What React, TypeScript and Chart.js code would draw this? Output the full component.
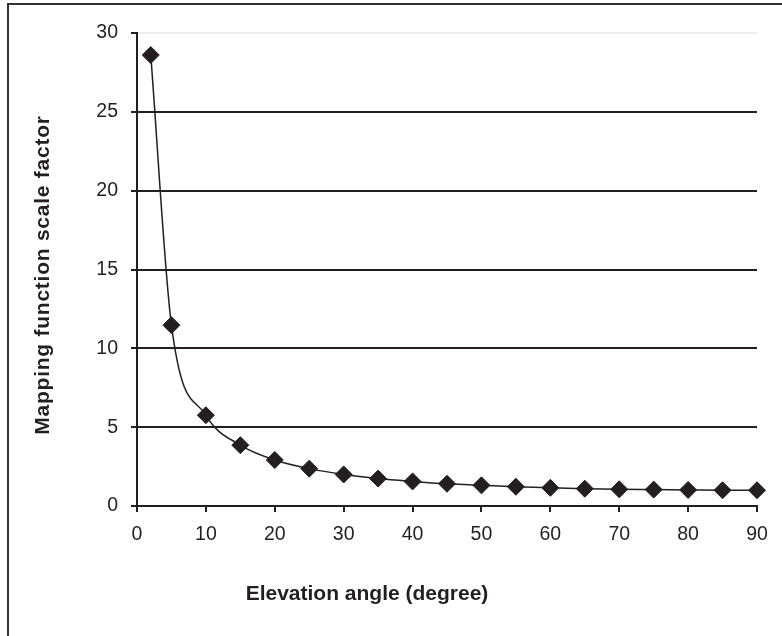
import React, { useEffect, useRef } from "react";
import { Chart, registerables } from "chart.js";

Chart.register(...registerables);

const elevationDeg: number[] = [2, 5, 10, 15, 20, 25, 30, 35, 40, 45, 50, 55, 60, 65, 70, 75, 80, 85, 90];
const scaleFactor: number[] = [28.6, 11.47, 5.76, 3.86, 2.92, 2.37, 2.0, 1.74, 1.56, 1.41, 1.31, 1.22, 1.15, 1.1, 1.06, 1.04, 1.02, 1.0, 1.0];
const xTitle = "Elevation angle (degree)";
const yTitle = "Mapping function scale factor";

const INK = "#231f20";

const titlesPlugin = {
  id: "axisTitles",
  afterDraw(chart: any) {
    const ctx = chart.ctx as CanvasRenderingContext2D;
    ctx.save();
    ctx.fillStyle = INK;
    ctx.font = "bold 21px 'Liberation Sans', Arial, sans-serif";
    ctx.textAlign = "center";
    ctx.textBaseline = "alphabetic";
    ctx.fillText(xTitle, 367, 600);
    (ctx as any).letterSpacing = "0.75px";
    ctx.translate(49, 275);
    ctx.rotate(-Math.PI / 2);
    ctx.fillText(yTitle, 0, 0);
    ctx.restore();
  },
};

export default function App() {
  const ref = useRef<HTMLCanvasElement | null>(null);

  useEffect(() => {
    if (!ref.current) return;
    const chart = new Chart(ref.current, {
      type: "line",
      data: {
        datasets: [
          {
            data: elevationDeg.map((x, i) => ({ x, y: scaleFactor[i] })),
            borderColor: INK,
            borderWidth: 1.5,
            backgroundColor: INK,
            pointStyle: "rectRot",
            pointRadius: 8.5,
            pointBorderWidth: 1,
            pointBackgroundColor: INK,
            pointBorderColor: INK,
            cubicInterpolationMode: "monotone",
            clip: false as any,
          },
        ],
      },
      options: {
        animation: false,
        responsive: false,
        layout: { padding: { left: 0, top: 33, right: 25, bottom: 0 } },
        plugins: { legend: { display: false }, tooltip: { enabled: false } },
        scales: {
          x: {
            type: "linear",
            min: 0,
            max: 90,
            afterFit: (s: any) => {
              s.height = 130;
            },
            ticks: {
              stepSize: 10,
              color: INK,
              padding: 11,
              font: { size: 19.5, family: "'Liberation Sans', Arial, sans-serif" },
              maxRotation: 0,
            },
            grid: {
              drawOnChartArea: false,
              drawTicks: true,
              tickLength: 6,
              color: INK,
              lineWidth: 2,
            },
            border: { display: true, color: INK, width: 2 },
          },
          y: {
            type: "linear",
            min: 0,
            max: 30,
            afterFit: (s: any) => {
              s.width = 137;
            },
            ticks: {
              stepSize: 5,
              color: INK,
              padding: 13,
              font: { size: 19.5, family: "'Liberation Sans', Arial, sans-serif" },
            },
            grid: {
              drawTicks: true,
              tickLength: 6,
              color: (c: any) => (c.tick && c.tick.value === 30 ? "#ececec" : INK),
              tickColor: INK,
              lineWidth: 2,
            },
            border: { display: true, color: INK, width: 2 },
          },
        },
      },
      plugins: [titlesPlugin],
    });
    return () => chart.destroy();
  }, []);

  return (
    <div style={{ position: "fixed", left: 0, top: 0, width: 782, height: 636, background: "#fff", overflow: "hidden" }}>
      <canvas ref={ref} width={782} height={636} style={{ position: "absolute", left: 0, top: 0, width: 782, height: 636 }} />
      <div
        style={{
          position: "absolute",
          left: 7,
          top: 3,
          width: 900,
          height: 900,
          border: "2px solid #333",
          pointerEvents: "none",
        }}
      />
    </div>
  );
}
